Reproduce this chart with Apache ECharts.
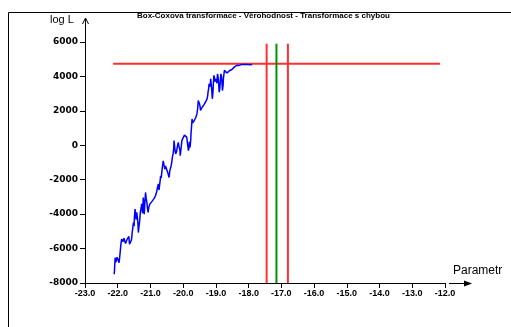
<!DOCTYPE html>
<html><head><meta charset="utf-8">
<script src="https://cdn.jsdelivr.net/npm/echarts@6/dist/echarts.min.js"></script>
<style>html,body{margin:0;padding:0;background:#fff}#c{width:511px;height:327px}</style>
</head><body><div id="c"></div>
<script>
const titleText = 'Box-Coxova transformace - Věrohodnost - Transformace s chybou';
const yName = 'log L';
const xName = 'Parametr';
const curveX = [-22.11,-22.10,-22.09,-22.08,-22.06,-22.04,-22.02,-22.00,-21.98,-21.96,-21.94,-21.92,-21.90,-21.88,-21.86,-21.84,-21.81,-21.79,-21.76,-21.74,-21.71,-21.68,-21.66,-21.64,-21.61,-21.58,-21.56,-21.54,-21.52,-21.50,-21.49,-21.47,-21.45,-21.44,-21.42,-21.40,-21.38,-21.37,-21.35,-21.33,-21.31,-21.30,-21.28,-21.27,-21.25,-21.24,-21.22,-21.20,-21.19,-21.17,-21.15,-21.13,-21.11,-21.09,-21.07,-21.05,-21.02,-20.99,-20.97,-20.94,-20.92,-20.89,-20.87,-20.84,-20.81,-20.79,-20.76,-20.74,-20.72,-20.70,-20.69,-20.67,-20.65,-20.63,-20.61,-20.59,-20.56,-20.54,-20.51,-20.49,-20.47,-20.45,-20.43,-20.41,-20.39,-20.37,-20.35,-20.33,-20.31,-20.29,-20.28,-20.26,-20.25,-20.23,-20.22,-20.20,-20.19,-20.17,-20.15,-20.13,-20.12,-20.10,-20.09,-20.06,-20.04,-20.01,-19.99,-19.96,-19.94,-19.91,-19.89,-19.86,-19.84,-19.82,-19.81,-19.80,-19.79,-19.77,-19.76,-19.74,-19.73,-19.71,-19.69,-19.67,-19.66,-19.64,-19.62,-19.60,-19.58,-19.56,-19.55,-19.54,-19.53,-19.51,-19.50,-19.48,-19.47,-19.44,-19.42,-19.39,-19.37,-19.34,-19.32,-19.29,-19.27,-19.25,-19.24,-19.22,-19.21,-19.19,-19.18,-19.17,-19.16,-19.14,-19.13,-19.12,-19.11,-19.09,-19.08,-19.07,-19.06,-19.04,-19.03,-19.01,-19.00,-18.98,-18.97,-18.96,-18.95,-18.93,-18.92,-18.91,-18.90,-18.88,-18.87,-18.86,-18.85,-18.83,-18.82,-18.81,-18.80,-18.78,-18.77,-18.75,-18.74,-18.71,-18.69,-18.66,-18.64,-18.61,-18.59,-18.56,-18.54,-18.51,-18.49,-18.46,-18.44,-18.41,-18.39,-18.36,-18.34,-18.31,-18.29,-18.26,-18.23,-18.20,-18.18,-18.15,-18.13,-18.10,-18.08,-18.05,-18.03,-18.00,-17.97,-17.94,-17.92,-17.89,-17.87];
const curveY = [-7490,-7300,-6900,-6530,-6800,-6700,-6500,-6550,-6400,-6820,-6500,-6100,-5700,-5450,-5550,-5600,-5400,-5500,-5700,-5650,-5450,-5550,-5300,-5750,-5850,-5500,-5100,-4800,-4490,-4700,-4150,-3710,-4100,-4300,-3900,-4200,-4600,-5070,-4700,-4400,-3900,-4000,-3600,-3400,-3800,-3950,-3030,-3600,-4000,-3300,-2740,-3100,-3300,-3700,-3900,-3600,-3420,-3500,-3300,-3350,-3200,-3100,-3030,-2900,-2700,-2500,-2250,-2600,-2500,-2000,-1770,-1900,-1500,-1200,-900,-1100,-1380,-1200,-1090,-1300,-1600,-1700,-1870,-1500,-1400,-1200,-990,-700,-500,-200,270,-100,-300,-500,-600,-350,-200,0,170,-50,-100,-300,-600,-100,270,400,500,600,660,550,460,0,-310,-100,200,50,-120,300,700,1200,1530,1300,1250,1350,1440,1500,1600,1700,1820,2100,2300,2600,2700,2500,2400,2200,2020,2100,2210,2300,2350,2400,2500,2600,2700,2900,3100,3300,3570,3400,3300,3600,3860,3500,3300,3000,2700,3100,3500,3800,4060,3900,3700,3800,3860,3750,3600,3900,4150,3900,3700,3400,3090,3300,3600,3900,4150,4000,3800,3500,3180,3500,3900,4200,4350,4250,4300,4200,4250,4300,4330,4300,4350,4400,4450,4500,4540,4600,4620,4650,4700,4660,4640,4680,4660,4700,4720,4680,4700,4660,4650,4700,4720,4700,4680,4700,4710,4690,4700];
const maxLogL = 4740;
const maxLineX = [-22.14, -12.15];
const lowerLimit = -17.45;
const optimum = -17.15;
const upperLimit = -16.80;
const vLineY = [-8000, 5900];
const xTicks = {min: -23, max: -12, interval: 1};
const yTicks = {min: -8000, max: 6000, interval: 2000};

const chart = echarts.init(document.getElementById('c'), null, {renderer: 'canvas'});
const vline = (x, color) => ({
  type: 'line', data: [[x, vLineY[0]], [x, vLineY[1]]], symbol: 'none', silent: true,
  lineStyle: {color: color, width: 2}, z: 3
});
chart.setOption({
  animation: false,
  backgroundColor: '#fff',
  grid: {left: 85, right: 66, top: 42, bottom: 44},
  xAxis: {
    type: 'value', min: xTicks.min, max: xTicks.max, interval: xTicks.interval,
    axisLine: {onZero: false, lineStyle: {color: '#000', width: 1}},
    axisTick: {show: true, length: 5, lineStyle: {color: '#000'}},
    splitLine: {show: false},
    axisLabel: {color: '#000', fontFamily: 'Liberation Sans', fontWeight: 'bold', fontSize: 9, margin: 6,
      formatter: v => v.toFixed(1)}
  },
  yAxis: {
    type: 'value', min: yTicks.min, max: yTicks.max, interval: yTicks.interval,
    axisLine: {show: true, onZero: false, lineStyle: {color: '#000', width: 1}},
    axisTick: {show: true, length: 5, lineStyle: {color: '#000'}},
    splitLine: {show: false},
    axisLabel: {color: '#000', fontFamily: 'DejaVu Sans', fontWeight: 'bold', fontSize: 9, margin: 7,
      formatter: v => String(v)}
  },
  series: [
    {type: 'line', data: curveX.map((x, i) => [x, curveY[i]]), symbol: 'none',
      lineStyle: {color: '#0000ff', width: 1.5}, z: 4},
    {type: 'line', data: [[maxLineX[0], maxLogL], [maxLineX[1], maxLogL]], symbol: 'none',
      lineStyle: {color: '#ff3030', width: 2}, z: 3},
    vline(lowerLimit, '#ff3030'),
    vline(optimum, '#009000'),
    vline(upperLimit, '#ff3030')
  ],
  graphic: [
    {type: 'rect', shape: {x: 8.5, y: 12.5, width: 520, height: 330}, style: {fill: null, stroke: '#000', lineWidth: 1}, silent: true},
    {type: 'text', left: 137, top: 12, style: {text: titleText, font: 'bold 8px "Liberation Sans"', fill: '#000'}},
    {type: 'text', left: 50, top: 14, style: {text: yName, font: '11px "Liberation Sans"', fill: '#000'}},
    {type: 'text', left: 453, top: 265, style: {text: xName, font: '12px "Liberation Sans"', fill: '#000'}},
    {type: 'line', shape: {x1: 85.5, y1: 42, x2: 85.5, y2: 19}, style: {stroke: '#000', lineWidth: 1}},
    {type: 'polyline', shape: {points: [[82.5, 24], [85.5, 18], [88.5, 24]]}, style: {stroke: '#000', lineWidth: 1, fill: null}},
    {type: 'line', shape: {x1: 449, y1: 283.5, x2: 470, y2: 283.5}, style: {stroke: '#000', lineWidth: 1}},
    {type: 'polygon', shape: {points: [[464, 280.5], [472, 283.5], [464, 286.5]]}, style: {fill: '#000'}}
  ]
});
</script></body></html>
